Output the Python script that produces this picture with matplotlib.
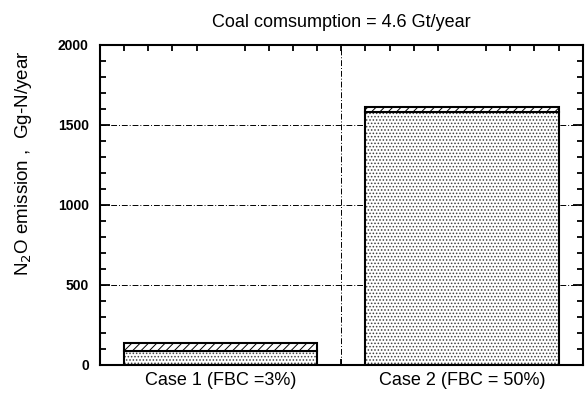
import numpy as np
import matplotlib
matplotlib.use('Agg')
import matplotlib.pyplot as plt
from matplotlib.ticker import MultipleLocator, FixedLocator

plt.rcParams['font.family'] = ['Liberation Sans', 'DejaVu Sans']
plt.rcParams['hatch.linewidth'] = 0.7

cases = ['Case 1 (FBC =3%)', 'Case 2 (FBC = 50%)']
x_pos = [0.5, 1.5]
base_emission = [85, 1580]     # stippled part
fbc_emission = [55, 30]        # hatched part on top

fig = plt.figure(figsize=(5.88, 4.01), dpi=100)
ax = fig.add_axes([0.170, 0.090, 0.821, 0.798])

# stippled lower segment
ax.bar(x_pos, base_emission, width=0.8, color='white', edgecolor='0.25',
       hatch='.....', linewidth=0, zorder=2)
ax.bar(x_pos, base_emission, width=0.8, fill=False, edgecolor='black',
       linewidth=1.5, zorder=3)
# hatched upper segment
ax.bar(x_pos, fbc_emission, bottom=base_emission, width=0.8, color='white',
       edgecolor='black', hatch='////', linewidth=1.5, zorder=3)

ax.set_xlim(0, 2)
ax.set_ylim(0, 2000)

# dash-dot grid
for yv in [500, 1000, 1500]:
    ax.axhline(yv, color='black', lw=0.7, ls='-.', dashes=(6, 2, 1, 2), zorder=1)
ax.axvline(1.0, color='black', lw=0.7, ls='-.', dashes=(6, 2, 1, 2), zorder=1)

ax.xaxis.set_major_locator(FixedLocator(x_pos))
ax.set_xticklabels(cases, fontsize=13)
ax.xaxis.set_minor_locator(FixedLocator(np.round(np.arange(0.1, 2.0, 0.1), 2)))
ax.tick_params(axis='x', which='major', length=0, pad=5)
ax.tick_params(axis='x', which='minor', direction='in', length=4, width=1.3,
               top=True, bottom=True)

ax.yaxis.set_major_locator(MultipleLocator(500))
ax.yaxis.set_minor_locator(MultipleLocator(100))
ax.tick_params(axis='y', which='major', direction='in', length=7, width=1.3,
               left=True, right=True, labelsize=10, pad=8)
ax.tick_params(axis='y', which='minor', direction='in', length=4, width=1.3,
               left=True, right=True)
for lbl in ax.get_yticklabels():
    lbl.set_fontweight('bold')

for sp in ax.spines.values():
    sp.set_linewidth(1.5)

ax.set_ylabel('N$_2$O emission ,  Gg-N/year', fontsize=13.5)
ax.yaxis.set_label_coords(-0.137, 0.63)
ax.set_title('Coal comsumption = 4.6 Gt/year', fontsize=13, pad=13)

fig.savefig('out.png', dpi=100)
